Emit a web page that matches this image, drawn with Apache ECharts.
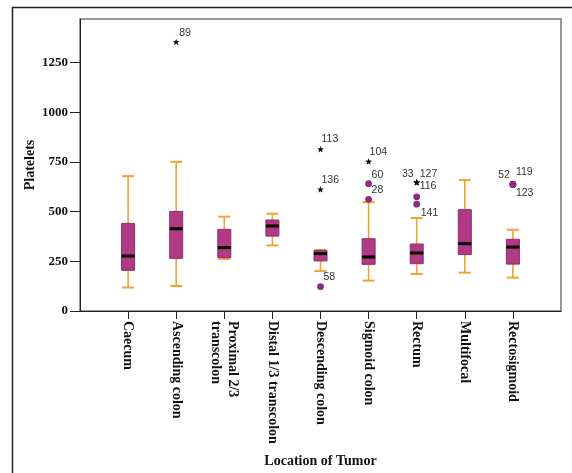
<!DOCTYPE html>
<html>
<head>
<meta charset="utf-8">
<script src="https://cdn.jsdelivr.net/npm/echarts@6/dist/echarts.min.js"></script>
<style>html,body{margin:0;padding:0;background:#fff;}#c{width:572px;height:473px;}</style>
</head>
<body>
<div id="c"></div>
<script>
const categories = ['Caecum', 'Ascending colon', 'Proximal 2/3\ntranscolon', 'Distal 1/3 transcolon', 'Descending colon', 'Sigmoid colon', 'Rectum', 'Multifocal', 'Rectosigmoid'];
const whiskerLow  = [118, 126, 262, 330, 201, 153, 186, 193, 168];
const q1          = [205, 265, 269, 377, 252, 235, 238, 284, 236];
const median      = [277, 414, 319, 428, 289, 272, 292, 339, 322];
const q3          = [441, 501, 411, 458, 305, 364, 337, 510, 361];
const whiskerHigh = [679, 751, 475, 490, 307, 548, 468, 659, 409];

const outlierCategory = ['Ascending colon', 'Descending colon', 'Descending colon', 'Descending colon', 'Sigmoid colon', 'Sigmoid colon', 'Sigmoid colon', 'Rectum', 'Rectum', 'Rectum', 'Rectum', 'Rectum', 'Rectosigmoid', 'Rectosigmoid', 'Rectosigmoid'];
const outlierValue    = [1353, 813, 611, 123, 751, 641, 562, 646, 646, 646, 575, 538, 637, 637, 637];
const outlierType     = ['extreme', 'extreme', 'extreme', 'outlier', 'extreme', 'outlier', 'outlier', 'extreme', 'extreme', 'extreme', 'outlier', 'outlier', 'outlier', 'outlier', 'outlier'];
const outlierCase     = ['89', '113', '136', '58', '104', '60', '28', '33', '127', '116', '', '141', '52', '119', '123'];

const yTicks = [0, 250, 500, 750, 1000, 1250];

// label placement relative to the mark (style only)
const labelPlacement = {
  '33': [-3, -9, 'right'], '116': [3, 3, 'left'], '141': [4, 9, 'left'],
  '52': [-3, -9, 'right'], '119': [3, -12, 'left'], '123': [3, 9, 'left'],
  '113': [1, -10, 'left'], '136': [1, -10, 'left'], '104': [1, -10, 'left']
};

const axisCats = [''].concat(categories, ['']);
const serif = 'Liberation Serif';
const ORANGE = '#f0a232';

const boxData = categories.map((c, i) => [i + 1, whiskerLow[i], q1[i], median[i], q3[i], whiskerHigh[i]]);
const outData = outlierValue.map((v, i) => [categories.indexOf(outlierCategory[i]) + 1, v]);

function renderBox(params, api) {
  const x = api.value(0);
  const lo = api.coord([x, api.value(1)]);
  const a = api.coord([x, api.value(2)]);
  const m = api.coord([x, api.value(3)]);
  const b = api.coord([x, api.value(4)]);
  const hi = api.coord([x, api.value(5)]);
  const cx = lo[0];
  const bw = 13, cw = 12;
  return {
    type: 'group',
    children: [
      { type: 'line', shape: { x1: cx, y1: hi[1], x2: cx, y2: b[1] }, style: { stroke: ORANGE, lineWidth: 1.6 } },
      { type: 'line', shape: { x1: cx, y1: a[1], x2: cx, y2: lo[1] }, style: { stroke: ORANGE, lineWidth: 1.6 } },
      { type: 'line', shape: { x1: cx - cw / 2, y1: hi[1], x2: cx + cw / 2, y2: hi[1] }, style: { stroke: ORANGE, lineWidth: 2 } },
      { type: 'line', shape: { x1: cx - cw / 2, y1: lo[1], x2: cx + cw / 2, y2: lo[1] }, style: { stroke: ORANGE, lineWidth: 2 } },
      { type: 'rect', shape: { x: cx - bw / 2, y: b[1], width: bw, height: a[1] - b[1] }, style: { fill: '#b03a84', stroke: '#8e2c70', lineWidth: 1 } },
      { type: 'line', shape: { x1: cx - bw / 2, y1: m[1], x2: cx + bw / 2, y2: m[1] }, style: { stroke: '#000', lineWidth: 3 } }
    ]
  };
}

function starPoints(cx, cy, R, r) {
  const pts = [];
  for (let k = 0; k < 10; k++) {
    const ang = -Math.PI / 2 + k * Math.PI / 5;
    const rad = k % 2 === 0 ? R : r;
    pts.push([cx + rad * Math.cos(ang), cy + rad * Math.sin(ang)]);
  }
  return pts;
}

function renderOutlier(params, api) {
  const i = params.dataIndex;
  const p = api.coord([api.value(0), api.value(1)]);
  const children = [];
  if (outlierType[i] === 'extreme') {
    children.push({ type: 'polygon', shape: { points: starPoints(p[0], p[1], 3.6, 1.5) }, style: { fill: '#111' } });
  } else {
    children.push({ type: 'circle', shape: { cx: p[0], cy: p[1], r: 3.4 }, style: { fill: '#8e2a82' } });
  }
  const lab = outlierCase[i];
  if (lab) {
    const pl = labelPlacement[lab] || [3, -9, 'left'];
    children.push({
      type: 'text',
      style: { x: p[0] + pl[0], y: p[1] + pl[1], text: lab, fill: '#333', fontSize: 10.5, fontFamily: 'Liberation Sans', align: pl[2], verticalAlign: 'middle' }
    });
  }
  return { type: 'group', children: children };
}

const chart = echarts.init(document.getElementById('c'), null, { renderer: 'canvas' });
chart.setOption({
  backgroundColor: '#fff',
  animation: false,
  graphic: [
    { type: 'line', shape: { x1: 12.5, y1: 7, x2: 12.5, y2: 473 }, style: { stroke: '#222', lineWidth: 1.5 } },
    { type: 'line', shape: { x1: 12, y1: 7.5, x2: 572, y2: 7.5 }, style: { stroke: '#222', lineWidth: 1.5 } }
  ],
  grid: { left: 80, right: 11, top: 19, bottom: 161, show: true, borderColor: '#777', borderWidth: 1.5, backgroundColor: 'transparent' },
  xAxis: {
    type: 'category',
    data: axisCats,
    boundaryGap: false,
    name: 'Location of Tumor',
    nameLocation: 'middle',
    nameGap: 143,
    nameMoveOverlap: false,
    nameTextStyle: { fontFamily: serif, fontWeight: 'bold', fontSize: 14, color: '#111' },
    axisLine: { lineStyle: { color: '#222', width: 1 } },
    axisTick: { length: 8, lineStyle: { color: '#222' }, interval: (idx) => idx > 0 && idx < axisCats.length - 1 },
    axisLabel: { interval: 0, rotate: -90, margin: 10, fontFamily: serif, fontWeight: 'bold', fontSize: 14, color: '#111', lineHeight: 17 },
    splitLine: { show: false }
  },
  yAxis: {
    type: 'value',
    min: 0,
    max: 1470,
    interval: 250,
    name: 'Platelets',
    nameLocation: 'middle',
    nameGap: 43,
    nameMoveOverlap: false,
    nameTextStyle: { fontFamily: serif, fontWeight: 'bold', fontSize: 14, color: '#111' },
    axisLine: { show: true, lineStyle: { color: '#222', width: 1 } },
    axisTick: { show: true, length: 10, lineStyle: { color: '#222' }, customValues: yTicks },
    axisLabel: { margin: 12, fontFamily: serif, fontWeight: 'bold', fontSize: 13, color: '#111', customValues: yTicks, formatter: (v) => String(v) },
    splitLine: { show: false }
  },
  series: [
    { type: 'custom', renderItem: renderBox, data: boxData, encode: { x: 0, y: [1, 2, 3, 4, 5] }, z: 2 },
    { type: 'custom', renderItem: renderOutlier, data: outData, encode: { x: 0, y: 1 }, z: 3 }
  ]
});
</script>
</body>
</html>
